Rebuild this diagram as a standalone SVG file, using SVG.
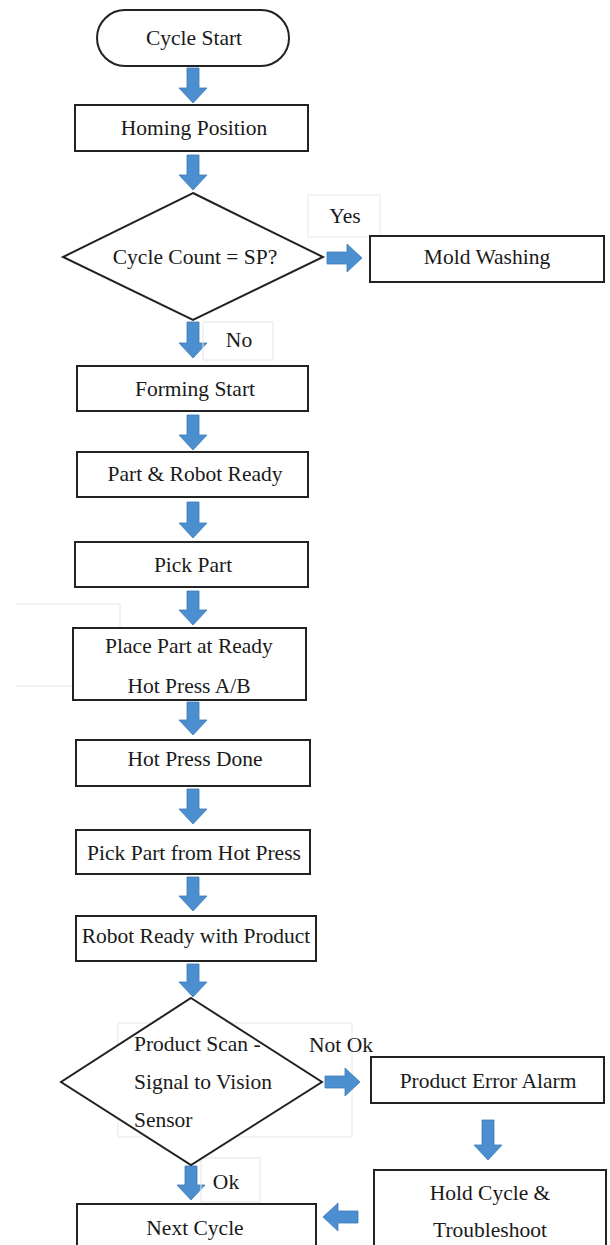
<svg xmlns="http://www.w3.org/2000/svg" width="610" height="1245" viewBox="0 0 610 1245">
<style>
.box{fill:#fff;stroke:#222;stroke-width:2}
.frame{fill:none;stroke:#e6e6e6;stroke-width:1}
.t{font-family:"Liberation Serif","Times New Roman",serif;font-size:21.5px;fill:#1a1a1a;text-anchor:middle;dominant-baseline:central}
.tl{text-anchor:start}
.arr{fill:#4b8fd0;stroke:#3c78b4;stroke-width:0.8}
</style>
<rect width="610" height="1245" fill="#fff"/>
<g id="text-frames">
<path class="frame" d="M16,604 H120 V628 M16,686 H86 V700"/>
<rect class="frame" x="118" y="1023" width="234" height="114"/>
</g>
<g id="connectors">
<path class="arr" d="M187,68 h12 v20 h8 l-14,15 l-14,-15 h8 z"/>
<path class="arr" d="M187,155 h12 v20 h8 l-14,15 l-14,-15 h8 z"/>
<path class="arr" d="M187,322 h12 v21 h8 l-14,15 l-14,-15 h8 z"/>
<path class="arr" d="M187,415 h12 v20 h8 l-14,15 l-14,-15 h8 z"/>
<path class="arr" d="M187,502 h12 v21 h8 l-14,15 l-14,-15 h8 z"/>
<path class="arr" d="M187,591 h12 v19 h8 l-14,15 l-14,-15 h8 z"/>
<path class="arr" d="M187,702 h12 v18 h8 l-14,15 l-14,-15 h8 z"/>
<path class="arr" d="M187,789 h12 v20 h8 l-14,15 l-14,-15 h8 z"/>
<path class="arr" d="M187,877 h12 v19 h8 l-14,15 l-14,-15 h8 z"/>
<path class="arr" d="M187,964 h12 v18 h8 l-14,15 l-14,-15 h8 z"/>
<path class="arr" d="M185,1166 h12 v19 h8 l-14,15 l-14,-15 h8 z"/>
<path class="arr" d="M482,1120 h12 v25 h8 l-14,15 l-14,-15 h8 z"/>
<path class="arr" d="M327,252 v12 h20 v8 l15,-14 l-15,-14 v8 z"/>
<path class="arr" d="M325,1076 v12 h20 v8 l15,-14 l-15,-14 v8 z"/>
<path class="arr" d="M358,1211 v12 h-20 v8 l-15,-14 l15,-14 v8 z"/>
</g>
<g id="labels">
<rect class="frame" x="308" y="195" width="72" height="42"/>
<text class="t" x="345" y="216">Yes</text>
<rect class="frame" x="203" y="322" width="70" height="38"/>
<text class="t" x="239" y="340">No</text>
<text class="t" x="341" y="1045">Not Ok</text>
<rect class="frame" x="201" y="1158" width="59" height="44"/>
<text class="t" x="226" y="1182">Ok</text>
</g>
<g id="cycle-start">
<rect class="box" x="97" y="10" width="192" height="56" rx="28"/>
<text class="t" x="194" y="38">Cycle Start</text>
</g>
<g id="homing">
<rect class="box" x="75" y="105" width="233" height="46"/>
<text class="t" x="194" y="128">Homing Position</text>
</g>
<g id="decision-count">
<polygon class="box" points="193,193 323,257 193,320 63,257"/>
<text class="t" x="195" y="257">Cycle Count = SP?</text>
</g>
<g id="mold-washing">
<rect class="box" x="370" y="236" width="234" height="46"/>
<text class="t" x="487" y="257">Mold Washing</text>
</g>
<g id="forming-start">
<rect class="box" x="77" y="366" width="231" height="45"/>
<text class="t" x="195" y="389">Forming Start</text>
</g>
<g id="part-robot-ready">
<rect class="box" x="77" y="452" width="231" height="45"/>
<text class="t" x="195" y="474">Part &amp; Robot Ready</text>
</g>
<g id="pick-part">
<rect class="box" x="75" y="542" width="233" height="45"/>
<text class="t" x="193" y="565">Pick Part</text>
</g>
<g id="place-part">
<rect class="box" x="73" y="628" width="233" height="72"/>
<text class="t" x="189" y="646">Place Part at Ready</text>
<text class="t" x="189" y="686">Hot Press A/B</text>
</g>
<g id="hot-press-done">
<rect class="box" x="76" y="740" width="234" height="46"/>
<text class="t" x="195" y="759">Hot Press Done</text>
</g>
<g id="pick-from-press">
<rect class="box" x="76" y="830" width="234" height="44"/>
<text class="t" x="194" y="853">Pick Part from Hot Press</text>
</g>
<g id="robot-ready-product">
<rect class="box" x="76" y="916" width="240" height="45"/>
<text class="t" x="196" y="936">Robot Ready with Product</text>
</g>
<g id="decision-scan">
<polygon class="box" points="191,998 322,1082 191,1165 61,1082"/>
<text class="t tl" x="134" y="1044">Product Scan -</text>
<text class="t tl" x="134" y="1082">Signal to Vision</text>
<text class="t tl" x="134" y="1120">Sensor</text>
</g>
<g id="error-alarm">
<rect class="box" x="371" y="1057" width="233" height="46"/>
<text class="t" x="488" y="1081">Product Error Alarm</text>
</g>
<g id="hold-cycle">
<rect class="box" x="374" y="1170" width="232" height="85"/>
<text class="t" x="490" y="1193">Hold Cycle &amp;</text>
<text class="t" x="490" y="1230">Troubleshoot</text>
</g>
<g id="next-cycle">
<rect class="box" x="77" y="1204" width="239" height="60"/>
<text class="t" x="195" y="1228">Next Cycle</text>
</g>
</svg>
